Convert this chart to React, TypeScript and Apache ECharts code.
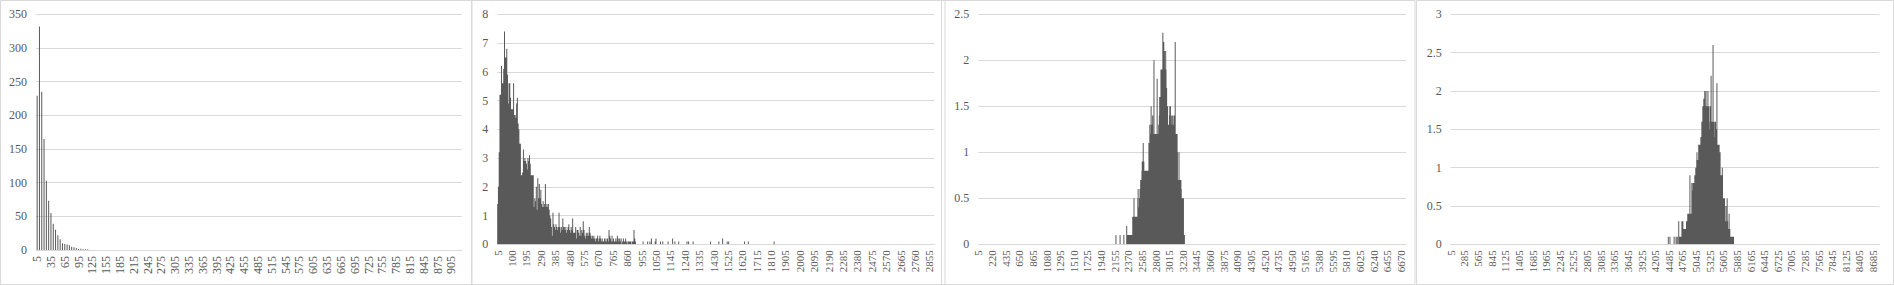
import React, { useEffect, useRef } from "react";
import * as echarts from "echarts";

const BIN_STEP = 5;

// Panel 1: bins 5..925
const P1_LAST = 925;
const P1_VALUES = [229, 332, 235, 165, 103, 73, 55, 39, 30, 22, 16, 10, 9, 8, 7, 5, 4, 3, 2, 2, 1, 1, 1];

// Panel 2: bins 5..2885
const P2_LAST = 2885;
const P2_VALUES = [
  1.4, 2.0, 3.2, 5.2, 5.2, 6.2, 5.6, 5.6, 6.1, 7.4,
  6.5, 6.5, 6.8, 5.9, 4.9, 5.6, 5.6, 5.1, 4.7, 4.7,
  4.7, 5.6, 4.5, 4.5, 4.4, 4.9, 5.1, 4.2, 4.0, 3.5,
  3.5, 2.4, 2.4, 2.5, 3.3, 2.9, 3.0, 2.9, 2.8, 2.6,
  3.0, 2.9, 3.1, 2.8, 2.4, 2.4, 2.4, 2.4, 1.3, 1.6,
  1.5, 2.0, 1.2, 2.3, 1.6, 2.1, 1.6, 1.9, 1.4, 1.3,
  1.5, 1.3, 1.4, 2.1, 1.3, 1.4, 1.3, 1.4, 1.2, 1.0,
  0.9, 0.6, 0.3, 1.1, 0.7, 0.6, 0.5, 0.7, 0.6, 0.5,
  0.6, 1.1, 0.6, 0.4, 0.6, 0.5, 0.9, 0.6, 0.6, 0.5,
  0.6, 0.4, 0.5, 0.6, 0.7, 0.5, 0.4, 0.6, 0.5, 0.9,
  0.4, 0.4, 0.4, 0.6, 0.2, 0.5, 0.5, 0.4, 0.3, 0.6,
  0.3, 0.5, 0.4, 0.8, 0.5, 0.3, 0.2, 0.4, 0.3, 0.4,
  0.3, 0.6, 0.4, 0.3, 0.2, 0.3, 0.2, 0.3, 0.2, 0.1,
  0.2, 0.2, 0.3, 0.1, 0.2, 0.3, 0.2, 0.1, 0.2, 0.1,
  0.1, 0.2, 0.1, 0.2, 0.1, 0.2, 0.1, 0.5, 0.3, 0.2,
  0.1, 0.3, 0.1, 0.2, 0.1, 0.1, 0.2, 0.1, 0.3, 0.2,
  0.1, 0.2, 0.1, 0.2, 0, 0.1, 0.2, 0.1, 0.1, 0.2,
  0.1, 0, 0.1, 0.1, 0.1, 0.1, 0.1, 0, 0.1, 0.1,
  0.5, 0.2, 0.1, 0,
];
const P2_SPARSE_BINS = [965, 995, 1010, 1020, 1045, 1050, 1080, 1095, 1130, 1160, 1175, 1200, 1255, 1265, 1295, 1410, 1465, 1490, 1520, 1530, 1635, 1660, 1830];
const P2_SPARSE_VALUES = [0.1, 0.1, 0.1, 0.2, 0.1, 0.2, 0.1, 0.1, 0.1, 0.2, 0.1, 0.1, 0.1, 0.1, 0.1, 0.1, 0.1, 0.2, 0.1, 0.1, 0.1, 0.1, 0.1];

// Panel 3: bins 5..6750, non-zero run starting at bin 2175
const P3_LAST = 6750;
const P3_START = 2175;
const P3_VALUES = [
  0.1, 0, 0, 0, 0, 0, 0, 0, 0, 0, 0, 0,
  0, 0.1, 0, 0, 0, 0, 0, 0, 0, 0, 0, 0, 0,
  0.1, 0, 0, 0, 0, 0, 0, 0, 0,
  0.2, 0.1, 0, 0.1, 0.1, 0, 0.1, 0.1, 0.1, 0.1, 0.1, 0, 0.1, 0.1, 0.1, 0.1, 0.1, 0.1, 0.1,
  0.3, 0.3, 0.3, 0.3, 0.5, 0.3, 0.3, 0.3, 0.3, 0.3, 0.3, 0.3, 0.3, 0.3, 0.3, 0.3,
  0.5, 0.6, 0.3, 0.4, 0.3, 0.5, 0.5, 0.6, 0.5, 0.7, 0.6, 0.7, 0.7,
  0.8, 0.9, 0.8, 0.8, 1.1, 0.8, 0.9, 0.8, 0.8, 0.8, 0.8, 0.8, 0.8, 0.6, 0.8,
  0.6, 0.8, 0.8, 0.8, 0.8, 0.8, 0.8, 1.1, 1.0, 1.1, 1.3, 1.2, 1.2,
  1.2, 1.5, 1.2, 1.3, 1.2, 1.3, 1.4, 1.2, 1.2, 1.2, 2.0, 1.2, 1.2,
  1.2, 1.2, 1.2, 1.2, 1.2, 1.2, 1.2, 1.8, 1.2, 1.2, 1.2, 1.2, 1.3, 1.3, 1.4,
  1.6, 1.5, 1.6, 1.6, 1.9, 1.8, 1.9, 1.9, 1.9, 1.9, 2.3, 2.2, 1.9, 2.2, 1.9, 2.1,
  1.9, 1.9, 1.9, 2.1, 1.9, 1.7, 1.7, 1.5, 1.3, 1.5, 1.3, 1.3, 1.3, 1.3, 1.3, 1.4,
  1.5, 1.4, 1.5, 1.3, 1.3, 1.3, 1.4, 1.3, 1.4, 1.3, 1.3, 1.2, 1.3, 1.4, 1.4, 1.3,
  1.2, 2.2, 1.2, 1.2, 1.2, 1.2, 1.2, 1.2, 1.0, 0.7, 0.7, 0.7, 0.7, 1.0, 0.7, 0.7,
  0.7, 0.7, 0.7, 0.7, 0.6, 0.5, 0.5, 0.5, 0.5, 0.5, 0.5, 0.5, 0.1, 0.1, 0.1,
];

// Panel 4: bins 5..8810, non-zero run starting at bin 4465
const P4_LAST = 8810;
const P4_START = 4465;
const P4_VALUES = [
  0, 0, 0.1, 0, 0, 0, 0, 0, 0, 0.1, 0, 0, 0, 0, 0, 0, 0,
  0, 0, 0, 0, 0, 0, 0, 0, 0, 0.1, 0, 0, 0, 0, 0, 0,
  0, 0.1, 0, 0, 0, 0, 0.1, 0, 0, 0, 0, 0,
  0.3, 0.1, 0.1, 0.1, 0.1, 0.1, 0.1, 0.1, 0.1, 0.1, 0.1, 0.1, 0.1,
  0.3, 0.2, 0.2, 0.2, 0.3, 0.2, 0.2, 0.2, 0.2, 0.2, 0.2, 0.2, 0.2, 0.2, 0.2, 0.2,
  0.2, 0.2, 0.2, 0.3, 0.3, 0.3, 0.3, 0.3, 0.4, 0.4, 0.4, 0.4, 0.4, 0.4, 0.4, 0.4,
  0.4, 0.9, 0.4, 0.4, 0.4, 0.4, 0.4, 0.4, 0.4, 0.8, 0.7, 0.7, 0.7, 0.7, 0.8, 0.7, 0.7,
  0.8, 0.8, 0.8, 0.8, 0.9, 0.8, 0.9, 0.9, 1.0, 1.0, 1.0, 1.0, 1.1, 1.2, 1.1, 1.1,
  1.1, 1.1, 1.1, 1.1, 1.3, 1.2, 1.3, 1.3, 1.3, 1.3, 1.3, 1.3, 1.3, 1.4, 1.4, 1.3, 1.4,
  1.6, 1.6, 1.6, 1.6, 1.8, 1.7, 1.8, 1.8, 1.9, 1.8, 1.8, 1.8, 2.0, 1.8, 1.8, 1.8,
  1.8, 2.0, 1.8, 1.8, 1.8, 1.8, 1.8, 1.6, 1.8, 2.0, 1.8, 1.8, 1.8, 1.5, 1.5, 1.5, 1.5,
  1.6, 1.8, 1.6, 1.6, 1.6, 2.2, 1.6, 1.6, 1.6, 1.6, 1.6, 1.6, 1.6, 2.6, 1.6, 1.6,
  1.4, 1.4, 1.4, 1.4, 1.6, 1.6, 1.6, 1.6, 1.5, 1.5, 1.5, 1.5, 1.3, 2.1, 1.3, 1.3, 1.3,
  1.3, 1.3, 1.3, 1.3, 1.3, 1.3, 1.2, 1.2, 1.2, 1.2, 0.9, 0.9, 0.9, 0.9, 0.9, 0.9,
  0.9, 0.9, 1.0, 0.9, 0.6, 0.6, 0.6, 0.6, 0.6, 0.6, 0.6, 0.6, 0.3, 0.3, 0.3, 0.3,
  0.3, 0.5, 0.3, 0.3, 0.3, 0.3, 0.6, 0.3, 0.3, 0.2, 0.2, 0.2, 0.2, 0.2, 0.4, 0.2, 0.2,
  0.2, 0.1, 0.1, 0.1, 0.1, 0.1, 0.1, 0.1, 0.1, 0.1, 0.1, 0.1, 0.1, 0.1, 0.1, 0.1,
];

const Y_MAX = [350, 8, 2.5, 3];
const Y_INTERVAL = [50, 1, 0.5, 0.5];
const LABEL_EVERY = [6, 19, 43, 56];

function binLabels(last: number): string[] {
  const out: string[] = [];
  for (let v = BIN_STEP; v <= last; v += BIN_STEP) out.push(String(v));
  return out;
}

function seriesFrom(cats: string[], start: number, values: number[], sparseBins: number[] = [], sparseValues: number[] = []): number[] {
  const data = cats.map(() => 0);
  const s = (start - BIN_STEP) / BIN_STEP;
  values.forEach((v, i) => {
    if (s + i < data.length) data[s + i] = v;
  });
  sparseBins.forEach((b, i) => {
    data[(b - BIN_STEP) / BIN_STEP] = sparseValues[i];
  });
  return data;
}

const GRIDS = [
  { left: 36, top: 14.3, width: 425.7, height: 235.7 },
  { left: 497.3, top: 14.3, width: 437, height: 230 },
  { left: 978.3, top: 14.3, width: 427.7, height: 230 },
  { left: 1450.7, top: 14.3, width: 428.6, height: 230 },
];
const FRAMES = [
  [0.5, 472],
  [471.5, 945],
  [941.5, 1415],
  [1416.5, 1893.5],
];
const BAR_WIDTHS = [1, 1, 1, 1];

const TEXT = "#595959";
const GRIDLINE = "#d9d9d9";
const BAR = "#595959";
const FONT = "'Liberation Serif', 'Times New Roman', serif";

export default function App() {
  const ref = useRef<HTMLDivElement>(null);
  useEffect(() => {
    if (!ref.current) return;
    const chart = echarts.init(ref.current, undefined, { renderer: "svg" });
    const cats = [binLabels(P1_LAST), binLabels(P2_LAST), binLabels(P3_LAST), binLabels(P4_LAST)];
    const datas = [
      seriesFrom(cats[0], BIN_STEP, P1_VALUES),
      seriesFrom(cats[1], BIN_STEP, P2_VALUES, P2_SPARSE_BINS, P2_SPARSE_VALUES),
      seriesFrom(cats[2], P3_START, P3_VALUES),
      seriesFrom(cats[3], P4_START, P4_VALUES),
    ];
    chart.setOption({
      animation: false,
      backgroundColor: "#ffffff",
      graphic: FRAMES.map(([x0, x1]) => ({
        type: "rect",
        silent: true,
        z: -10,
        shape: { x: x0, y: 0.5, width: x1 - x0, height: 284 },
        style: { fill: "none", stroke: GRIDLINE, lineWidth: 1 },
      })),
      grid: GRIDS.map((g) => ({ ...g, containLabel: false })),
      xAxis: cats.map((c, i) => ({
        type: "category",
        gridIndex: i,
        data: c,
        boundaryGap: true,
        axisLine: { lineStyle: { color: GRIDLINE, width: 1 } },
        axisTick: { show: false },
        axisLabel: {
          interval: LABEL_EVERY[i] - 1,
          rotate: 90,
          color: TEXT,
          fontFamily: FONT,
          fontSize: i === 0 ? 12 : 11,
          margin: 6,
        },
      })),
      yAxis: Y_MAX.map((m, i) => ({
        type: "value",
        gridIndex: i,
        min: 0,
        max: m,
        interval: Y_INTERVAL[i],
        axisLine: { show: false },
        axisTick: { show: false },
        splitLine: { lineStyle: { color: GRIDLINE, width: 1 } },
        axisLabel: { color: TEXT, fontFamily: FONT, fontSize: 12, margin: 9 },
      })),
      series: datas.map((d, i) => ({
        type: "bar",
        xAxisIndex: i,
        yAxisIndex: i,
        data: d,
        barWidth: BAR_WIDTHS[i],
        large: i > 0,
        largeThreshold: 100,
        silent: true,
        itemStyle: { color: BAR },
      })),
    });
    return () => chart.dispose();
  }, []);
  return <div ref={ref} style={{ position: "absolute", left: 0, top: 0, width: 1894, height: 285 }} />;
}
